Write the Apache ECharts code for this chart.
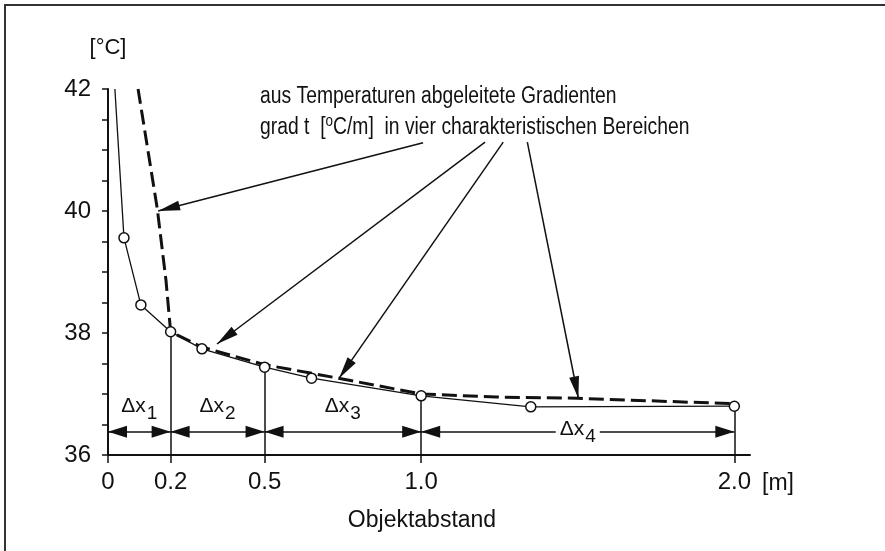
<!DOCTYPE html>
<html>
<head>
<meta charset="utf-8">
<script src="https://cdn.jsdelivr.net/npm/echarts@6/dist/echarts.min.js"></script>
<style>
html, body { margin: 0; padding: 0; background: #fff; }
#chart { width: 885px; height: 551px; }
</style>
</head>
<body>
<div id="chart"></div>
<script>
// measured temperature vs. object distance (open circles)
const nearX = [0.022, 0.051, 0.105, 0.2, 0.30, 0.5, 0.65, 1.0, 1.35, 2.0];
const nearT = [42.0, 39.56, 38.46, 38.02, 37.74, 37.44, 37.26, 36.97, 36.79, 36.80];
// curve the gradients are derived from (dashed)
const gradX = [0.096, 0.157, 0.185, 0.2, 0.30, 0.5, 0.735, 1.0, 1.24, 1.50, 2.0];
const gradT = [42.0, 40.05, 38.87, 38.02, 37.77, 37.48, 37.26, 37.0, 36.95, 36.93, 36.84];
// x tick labels = bounds of the four ranges
const xTicks = [0, 0.2, 0.5, 1.0, 2.0];
const xTickText = ['0', '0.2', '0.5', '1.0', '2.0'];
const rangeIdx = ['1', '2', '3', '4'];
const rangeLevel = 36.38;
// caption arrows: [fromX, fromT, toX, toT]
const callouts = [
    [1.006, 41.12, 0.160, 40.00],
    [1.204, 41.13, 0.348, 37.82],
    [1.262, 41.13, 0.738, 37.26],
    [1.339, 41.13, 1.502, 36.93]
];

const ink = '#111';
const font = 'Liberation Sans';

let nearData = nearX.map((x, i) => i === 0 ? { value: [x, nearT[i]], symbol: 'none' } : [x, nearT[i]]);
let gradData = gradX.map((x, i) => [x, gradT[i]]);

let subRich = {
    m: { fontSize: 21, color: ink, fontFamily: font },
    s: { fontSize: 19, color: ink, fontFamily: font, padding: [15, 0, 0, 1] }
};

let marks = [];
// vertical lines from the points down to the axis
xTicks.slice(1).forEach(x => {
    let t = nearT[nearX.indexOf(x)];
    marks.push([
        { coord: [x, t], symbol: 'none' },
        { coord: [x, 36], symbol: 'none' }
    ]);
});
// dimension arrows for the four ranges
rangeIdx.forEach((n, i) => {
    let last = i === rangeIdx.length - 1;
    marks.push([
        {
            coord: [xTicks[i], rangeLevel],
            symbol: 'triangle', symbolSize: [12, 19], symbolOffset: [0, 9.5],
            label: {
                show: true,
                position: 'middle',
                distance: last ? -14 : 9,
                formatter: '{m|Δx}{s|' + n + '}',
                rich: subRich,
                backgroundColor: last ? '#fff' : 'transparent',
                padding: last ? [0, 4, 0, 4] : 0
            }
        },
        { coord: [xTicks[i + 1], rangeLevel], symbol: 'triangle', symbolSize: [12, 19], symbolOffset: [0, 9.5] }
    ]);
});
// arrows from the caption
callouts.forEach(c => {
    marks.push([
        { coord: [c[0], c[1]], symbol: 'none' },
        { coord: [c[2], c[3]], symbol: 'triangle', symbolSize: [10, 22], symbolOffset: [0, 11] }
    ]);
});

option = {
    animation: false,
    textStyle: { fontFamily: font, color: ink },
    grid: {
        left: 108,
        top: 89,
        right: 135,
        bottom: 96
    },
    xAxis: {
        type: 'value',
        min: 0,
        max: 2.05,
        name: '[m]',
        nameLocation: 'end',
        nameGap: 12,
        nameTextStyle: { fontSize: 23, color: ink, verticalAlign: 'top', padding: [17, 0, 0, 0] },
        splitLine: { show: false },
        axisLine: { lineStyle: { color: ink, width: 2 } },
        axisTick: { customValues: xTicks, length: 8, lineStyle: { color: ink, width: 1.5 } },
        axisLabel: {
            customValues: xTicks,
            margin: 15,
            fontSize: 24,
            color: ink,
            formatter: v => xTickText[xTicks.indexOf(v)]
        }
    },
    yAxis: {
        type: 'value',
        min: 36,
        max: 42,
        interval: 2,
        name: '[°C]',
        nameLocation: 'end',
        nameGap: 30,
        nameTextStyle: { fontSize: 22, color: ink, align: 'center' },
        splitLine: { show: false },
        axisLine: { show: true, lineStyle: { color: ink, width: 2 } },
        axisTick: { length: 6, lineStyle: { color: ink, width: 1.5 } },
        minorTick: { show: true, splitNumber: 4, length: 6, lineStyle: { color: ink, width: 1.5 } },
        axisLabel: { margin: 17, fontSize: 24, color: ink }
    },
    series: [{
        name: 'Gradient',
        type: 'line',
        data: gradData,
        symbol: 'none',
        z: 3,
        lineStyle: { color: ink, width: 3, type: [15, 6] },
        markLine: {
            silent: true,
            z: 2,
            symbol: 'none',
            label: { show: false },
            lineStyle: { color: ink, width: 1.5, type: 'solid' },
            emphasis: { disabled: true },
            data: marks
        }
    }, {
        name: 'Temperatur',
        type: 'line',
        data: nearData,
        z: 10,
        symbol: 'circle',
        symbolSize: 10,
        itemStyle: { color: '#fff', borderColor: ink, borderWidth: 1.5 },
        lineStyle: { color: ink, width: 1.3 }
    }],
    graphic: [{
        type: 'polyline',
        shape: { points: [[5, 551], [5, 5], [885, 5]] },
        style: { stroke: '#333', lineWidth: 2, fill: null }
    }, {
        type: 'text',
        x: 260,
        y: 97,
        scaleX: 0.84,
        style: {
            text: 'aus Temperaturen abgeleitete Gradienten',
            font: '23px "Liberation Sans"',
            fill: ink,
            textVerticalAlign: 'middle',
            verticalAlign: 'middle'
        }
    }, {
        type: 'text',
        x: 260,
        y: 128,
        scaleX: 0.84,
        style: {
            text: 'grad t  [{sup|o}C/m]  in vier charakteristischen Bereichen',
            font: '23px "Liberation Sans"',
            fill: ink,
            textVerticalAlign: 'middle',
            verticalAlign: 'middle',
            rich: {
                sup: { font: '16px "Liberation Sans"', fill: ink, padding: [0, 0, 12, 0] }
            }
        }
    }, {
        type: 'text',
        x: 422,
        y: 521,
        style: {
            text: 'Objektabstand',
            font: '23px "Liberation Sans"',
            fill: ink,
            textAlign: 'center',
            align: 'center',
            textVerticalAlign: 'middle',
            verticalAlign: 'middle'
        }
    }]
};

var myChart = echarts.init(document.getElementById('chart'));
myChart.setOption(option);
window.addEventListener('resize', function() {
    myChart.resize();
});
</script>
</body>
</html>
